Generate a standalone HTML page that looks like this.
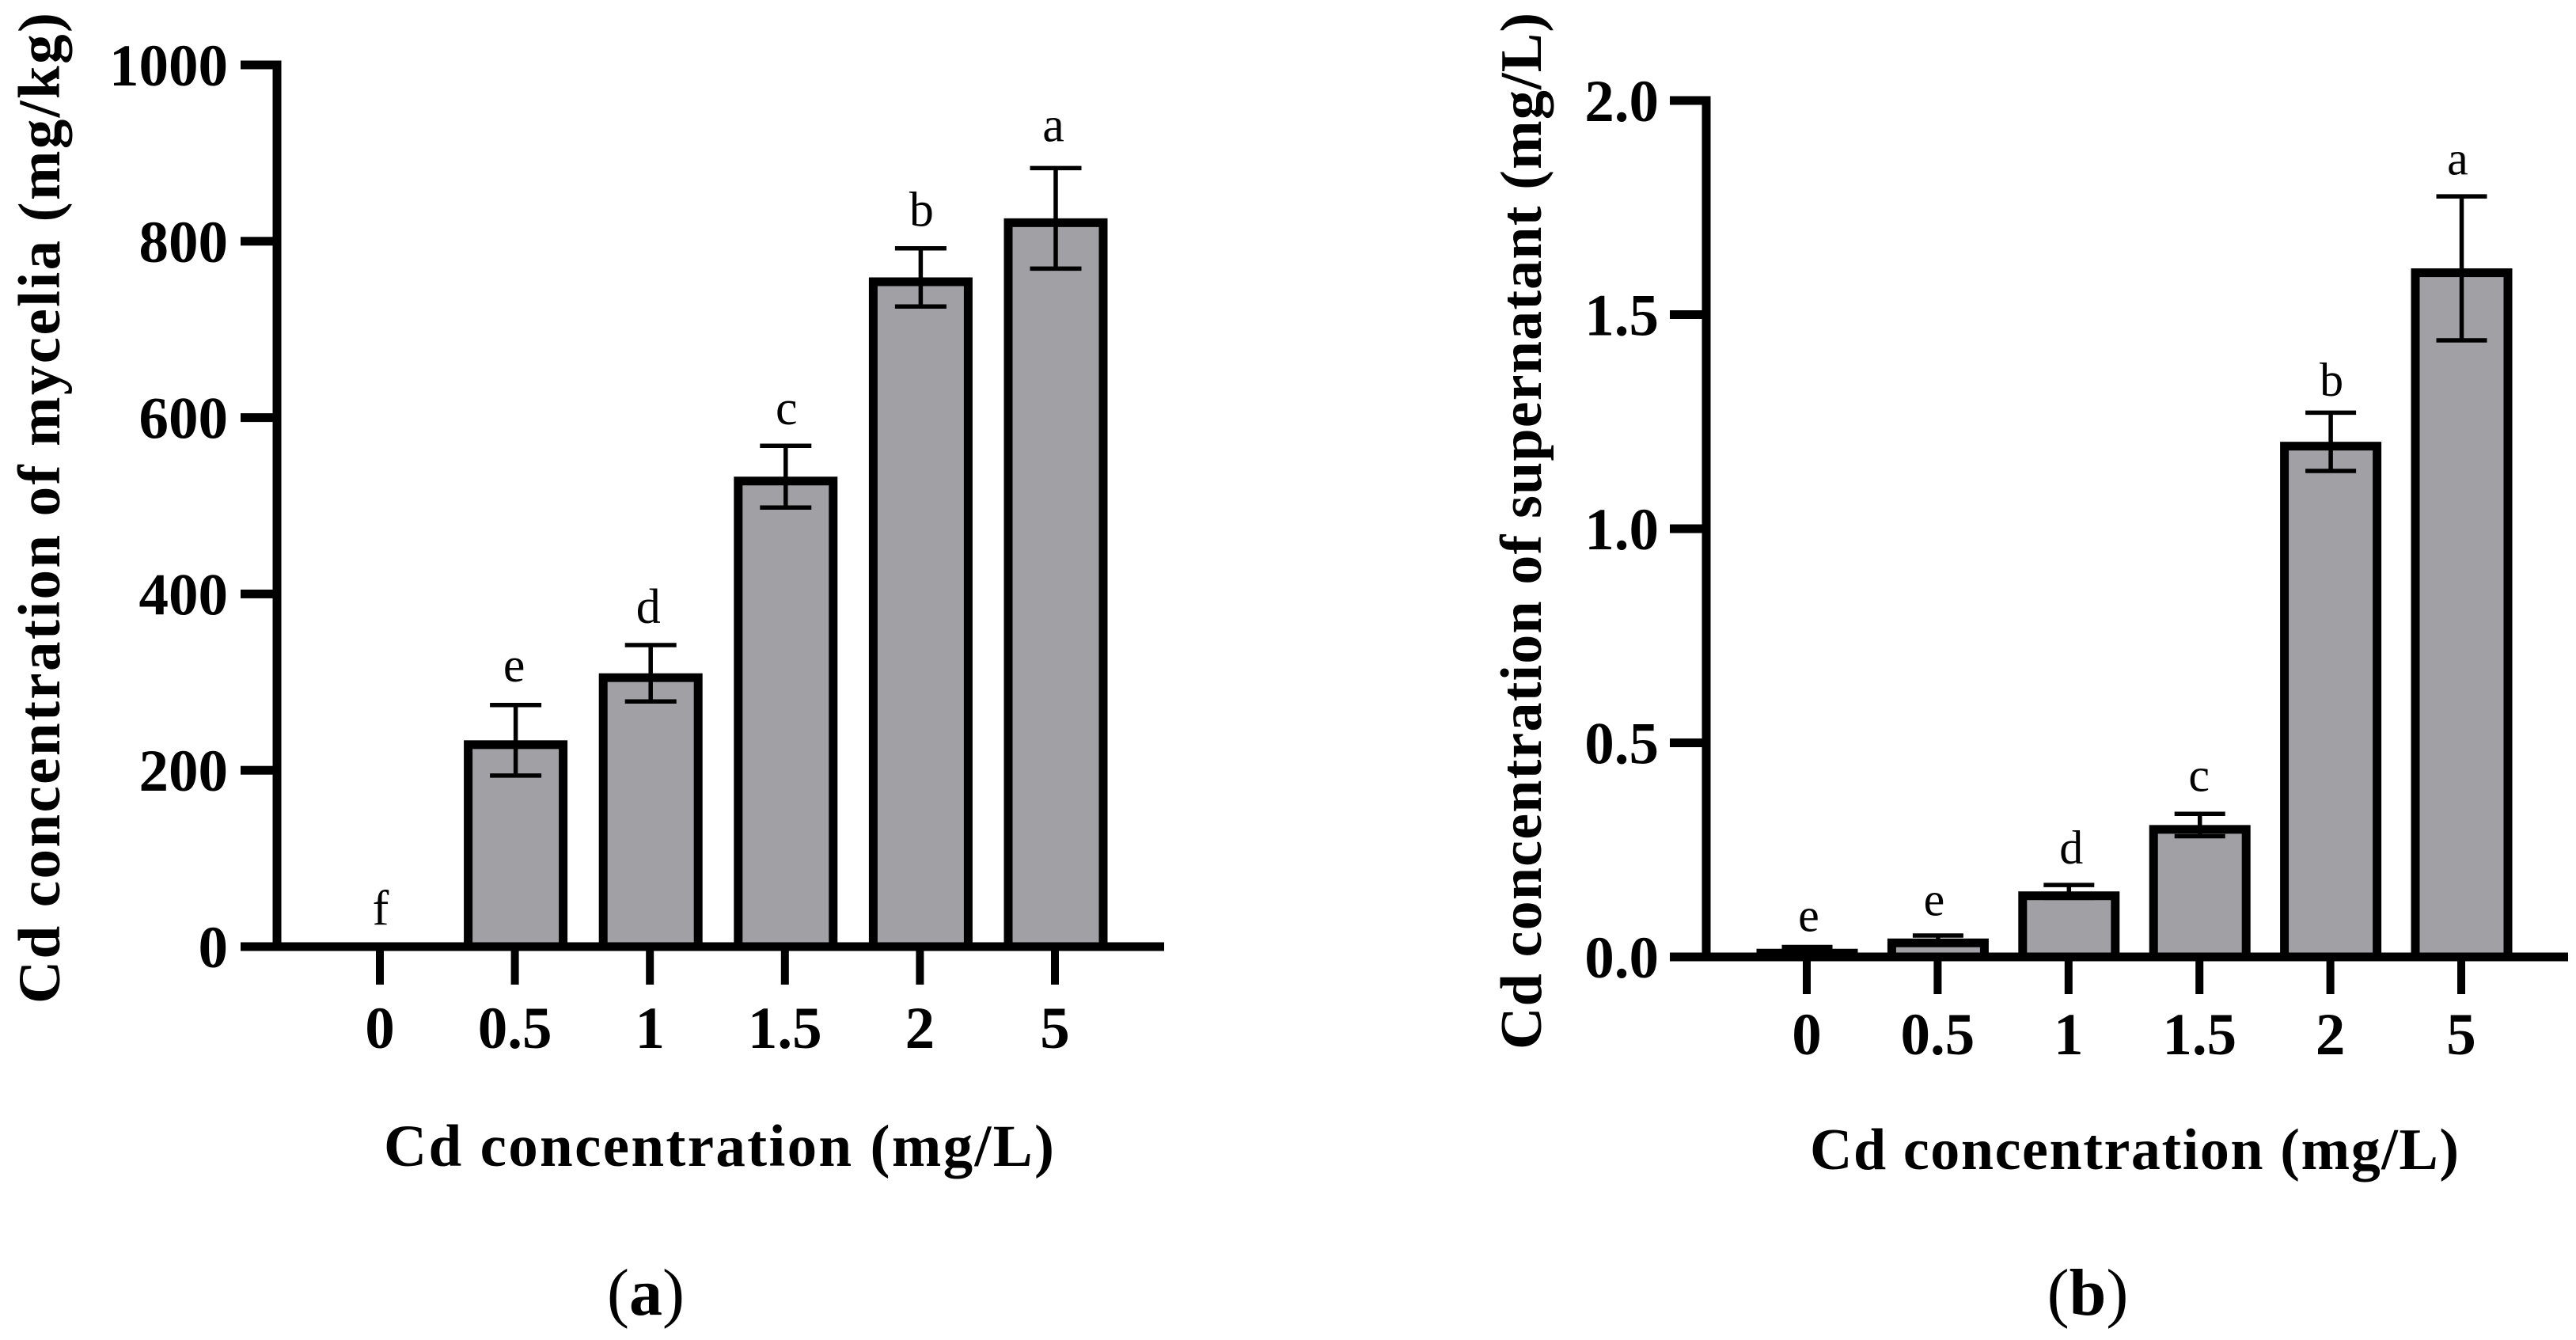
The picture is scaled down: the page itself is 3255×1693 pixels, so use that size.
<!DOCTYPE html>
<html lang="en">
<head>
<meta charset="utf-8">
<title>Cd concentration of mycelia and supernatant</title>
<style>
  html, body { margin: 0; padding: 0; background: #fff; }
  svg { display: block; }
  text { font-family: "Liberation Serif", serif; fill: #000; }
  .bold { font-weight: 700; }
</style>
</head>
<body>
<svg id="figure" xmlns="http://www.w3.org/2000/svg" width="3255" height="1693" viewBox="0 0 3255 1693">
  <rect x="0" y="0" width="3255" height="1693" fill="#ffffff"/>
  <g id="panel-a"></g>
  <g id="panel-b"></g>

  <text class="bold" font-size="75" transform="translate(75 1268) rotate(-90)" textLength="1252" lengthAdjust="spacing">Cd concentration of mycelia (mg/kg)</text>
  <text class="bold" font-size="75" x="485" y="1473" textLength="847" lengthAdjust="spacing">Cd concentration (mg/L)</text>
  <text font-size="84" x="816" y="1661" text-anchor="middle">(<tspan class="bold">a</tspan>)</text>

  <text class="bold" font-size="74" transform="translate(1947 1326) rotate(-90)" textLength="1310" lengthAdjust="spacing">Cd concentration of supernatant (mg/L)</text>
  <text class="bold" font-size="74" x="2287" y="1477" textLength="820" lengthAdjust="spacing">Cd concentration (mg/L)</text>
  <text font-size="84" x="2638" y="1661" text-anchor="middle">(<tspan class="bold">b</tspan>)</text>
</svg>

<script>
// ---- Data ----
const categories = ['0', '0.5', '1', '1.5', '2', '5'];

const myceliaValues = [0, 234, 310, 533, 759, 826];
const myceliaErrors = [0, 40, 32, 35, 33, 57];
const myceliaLetters = ['f', 'e', 'd', 'c', 'b', 'a'];
const myceliaTicks = [0, 200, 400, 600, 800, 1000];
const myceliaTickLabels = ['0', '200', '400', '600', '800', '1000'];

const supernatantValues = [0.019, 0.043, 0.153, 0.308, 1.203, 1.608];
const supernatantErrors = [0.004, 0.007, 0.015, 0.026, 0.068, 0.168];
const supernatantLetters = ['e', 'e', 'd', 'c', 'b', 'a'];
const supernatantTicks = [0, 0.5, 1, 1.5, 2];
const supernatantTickLabels = ['0.0', '0.5', '1.0', '1.5', '2.0'];

// ---- Drawing ----
const SVG_NS = 'http://www.w3.org/2000/svg';
const STROKE = 11;
const BAR_FILL = '#a1a0a4';

function make(parent, tag, attrs, content) {
  const el = document.createElementNS(SVG_NS, tag);
  for (const key in attrs) el.setAttribute(key, attrs[key]);
  if (content !== undefined) el.textContent = content;
  parent.appendChild(el);
  return el;
}

function drawPanel(root, values, errors, letters, ticks, tickLabels, layout) {
  const yScale = v => layout.y0 + (layout.yMax - layout.y0) * (v / layout.domainMax);
  const xScale = i => layout.x0 + i * layout.step;

  // bars and error bars
  values.forEach((value, i) => {
    const cx = xScale(i) + layout.barShift;
    const top = yScale(value);
    const left = cx - layout.barWidth / 2;
    const height = layout.y0 - top;

    if (height > 0) {
      const bar = make(root, 'g', {});
      
      
      make(bar, 'rect', { x: left, y: top, width: layout.barWidth, height: height, fill: '#000' });
      if (height > STROKE) {
        make(bar, 'rect', { x: left + STROKE, y: top + STROKE, width: layout.barWidth - 2 * STROKE, height: height - STROKE, fill: BAR_FILL });
      }
    }

    const errTop = yScale(value + errors[i]);
    const errBottom = yScale(value - errors[i]);
    if (errors[i] > 0) {
      const err = make(root, 'g', { stroke: '#000', 'stroke-width': 5.5, fill: 'none' });
      
      
      make(err, 'line', { x1: cx, x2: cx, y1: errTop, y2: errBottom });
      make(err, 'line', { x1: cx - layout.capWidth / 2, x2: cx + layout.capWidth / 2, y1: errTop, y2: errTop });
      make(err, 'line', { x1: cx - layout.capWidth / 2, x2: cx + layout.capWidth / 2, y1: errBottom, y2: errBottom });
    }

    const letter = make(root, 'text', {
      x: cx + layout.letterDx[i],
      y: errTop - layout.letterGap[i],
      'font-size': layout.letterSize,
      'text-anchor': 'middle'
    }, letters[i]);
    
    
  });

  // y axis
  const yAxis = make(root, 'rect', {
    x: layout.axisX - STROKE / 2,
    y: layout.yMax - STROKE / 2,
    width: STROKE,
    height: layout.y0 - layout.yMax + STROKE,
    fill: '#000'
  });
  
  

  ticks.forEach((t, i) => {
    const y = yScale(t);
    const mark = make(root, 'rect', {
      x: layout.tickLeft,
      y: y - STROKE / 2,
      width: layout.axisX - layout.tickLeft,
      height: STROKE,
      fill: '#000'
    });
    
    
    const label = make(root, 'text', {
      x: layout.yLabelRight,
      y: y + 26,
      'font-size': layout.tickSize,
      'font-weight': 700,
      'text-anchor': 'end'
    }, tickLabels[i]);
    
    
  });

  // x axis
  const xAxis = make(root, 'rect', {
    x: layout.tickLeft,
    y: layout.y0 - STROKE / 2,
    width: layout.axisRight - layout.tickLeft,
    height: STROKE,
    fill: '#000'
  });
  
  

  categories.forEach((c, i) => {
    const x = xScale(i);
    const mark = make(root, 'rect', {
      x: x - 5,
      y: layout.y0,
      width: 10,
      height: layout.xTickBottom - layout.y0,
      fill: '#000'
    });
    
    
    const label = make(root, 'text', {
      x: x,
      y: layout.xLabelBaseline,
      'font-size': layout.tickSize,
      'font-weight': 700,
      'text-anchor': 'middle'
    }, c);
    
    
  });
}

drawPanel(document.getElementById('panel-a'),
  myceliaValues, myceliaErrors, myceliaLetters, myceliaTicks, myceliaTickLabels, {
    y0: 1196, yMax: 82, domainMax: 1000,
    x0: 480, step: 170.6, barShift: 1,
    barWidth: 131, capWidth: 65,
    axisX: 350, tickLeft: 304, axisRight: 1471,
    yLabelRight: 288, xTickBottom: 1244, xLabelBaseline: 1324,
    tickSize: 75, letterSize: 62,
    letterGap: [28, 30, 28, 27, 28, 34],
    letterDx: [0, -2, -3, 1, 1, -3]
  });

drawPanel(document.getElementById('panel-b'),
  supernatantValues, supernatantErrors, supernatantLetters, supernatantTicks, supernatantTickLabels, {
    y0: 1209, yMax: 127, domainMax: 2,
    x0: 2283, step: 165.4, barShift: 0.5,
    barWidth: 128, capWidth: 64,
    axisX: 2156, tickLeft: 2110, axisRight: 3245,
    yLabelRight: 2096, xTickBottom: 1256, xLabelBaseline: 1332,
    tickSize: 75, letterSize: 60,
    letterGap: [20, 25.5, 27, 29, 21.5, 27.5],
    letterDx: [2, -5, 3, -1, 1, -5]
  });
</script>
</body>
</html>
